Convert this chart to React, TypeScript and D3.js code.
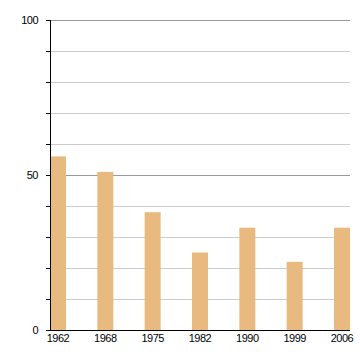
import React from "react";
import * as d3 from "d3";

const years = ["1962", "1968", "1975", "1982", "1990", "1999", "2006"];
const values = [56, 51, 38, 25, 33, 22, 33];
const yTickLabels = [0, 50, 100];
const gridValues = [10, 20, 30, 40, 50, 60, 70, 80, 90, 100];

export default function App() {
  const W = 360, H = 360;
  const left = 50, right = 350, top = 20, bottom = 330;
  const x = d3.scaleBand<string>().domain(years).range([left, right]).paddingInner(0.662).paddingOuter(0);
  const y = d3.scaleLinear().domain([0, 100]).range([bottom, top]);
  const font = "'Liberation Sans', Arial, sans-serif";
  return (
    <svg width={W} height={H} style={{ position: "absolute", left: 0, top: 0 }}>
      <rect width={W} height={H} fill="#fff" />
      {gridValues.map((v) => (
        <line key={v} x1={left} x2={right} y1={y(v) + 0.5} y2={y(v) + 0.5}
          stroke={v % 50 === 0 ? "#999" : "#ccc"} strokeWidth={1} />
      ))}
      {years.map((yr, i) => (
        <rect key={yr} x={x(yr)} y={y(values[i])} width={x.bandwidth()} height={bottom - y(values[i])} fill="#e8ba80" />
      ))}
      <line x1={left + 0.5} x2={left + 0.5} y1={top} y2={bottom + 1} stroke="#000" />
      <line x1={left} x2={right} y1={bottom + 0.5} y2={bottom + 0.5} stroke="#000" />
      {[0, ...gridValues].map((v) => (
        <line key={"t" + v} x1={left - 4} x2={left} y1={y(v) + 0.5} y2={y(v) + 0.5} stroke="#000" />
      ))}
      {yTickLabels.map((v) => (
        <text key={"l" + v} x={38} y={y(v) + 4} textAnchor="end" fontFamily={font} fontSize={11} fill="#000" letterSpacing={-0.5}>{v}</text>
      ))}
      {years.map((yr) => (
        <text key={"x" + yr} x={(x(yr) as number) + x.bandwidth() / 2} y={342} textAnchor="middle" fontFamily={font} fontSize={11} fill="#000" letterSpacing={-0.5}>{yr}</text>
      ))}
    </svg>
  );
}
